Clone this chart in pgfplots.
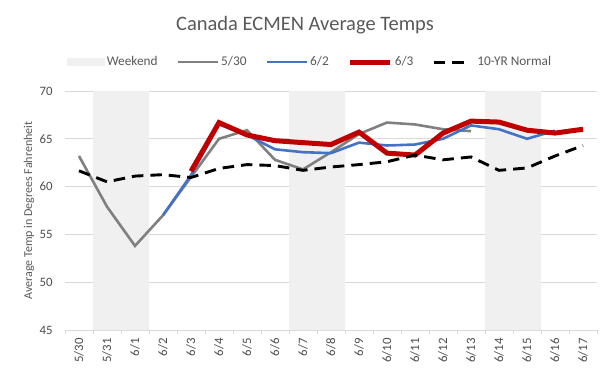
\documentclass[border=0pt]{standalone}
\usepackage{fontspec}
\setmainfont{Carlito}
\usepackage{pgfplots}
\pgfplotsset{compat=1.18}
\definecolor{txt}{HTML}{595959}
\definecolor{tick}{HTML}{4D4D4D}
\definecolor{gridc}{HTML}{D9D9D9}
\definecolor{wknd}{HTML}{F0F0F0}
\definecolor{sgray}{HTML}{808080}
\definecolor{sblue}{HTML}{4472C4}
\definecolor{sred}{HTML}{C00000}
\begin{document}
\begin{tikzpicture}
\begin{axis}[
  set layers,
  at={(65pt,45pt)}, anchor=south west,
  scale only axis, width=532pt, height=239pt,
  xmin=-0.5, xmax=18.5, ymin=45, ymax=70,
  ytick={45,50,...,70},
  xtick={0,...,18},
  xticklabels={5/30,5/31,6/1,6/2,6/3,6/4,6/5,6/6,6/7,6/8,6/9,6/10,6/11,6/12,6/13,6/14,6/15,6/16,6/17},
  minor xtick={-0.5,0.5,...,18.5},
  major tick length=0pt, minor tick length=4pt, tick align=outside,
  xtick pos=bottom, ytick pos=left,
  minor x tick style={draw=gridc, line width=0.8pt},
  ymajorgrids, major grid style={draw=gridc, line width=0.8pt},
  axis line style={draw=none},
  /pgf/number format/assume math mode=true,
  tick label style={font=\fontsize{12.8}{14}\selectfont, text=tick},
  xticklabel style={yshift=-8pt, rotate=90, anchor=east, inner sep=0pt},
  yticklabel style={xshift=-12.3pt, anchor=east, inner sep=0pt},
  ylabel={Average Temp in Degrees Fahrenheit},
  every axis y label/.style={at={(axis description cs:-0.0677,0.5)}, rotate=90, anchor=center, font=\fontsize{12}{14}\selectfont, text=txt},
  title={Canada ECMEN Average Temps},
  every axis title/.style={at={(axis description cs:0.451,1.2552)}, anchor=base, font=\fontsize{20.5}{24}\selectfont, text=txt},
  legend columns=5,
  legend style={at={(axis description cs:0.4605,1.121)}, anchor=center, draw=none, fill=none,
    font=\fontsize{13.3}{15}\selectfont, text=txt,
    /tikz/every even column/.append style={column sep=17pt}},
  legend image code/.code={\draw[#1] (0pt,0pt) -- (40pt,0pt);},
]
\addplot[ybar, bar width=1, fill=wknd, draw=none,
  legend image code/.code={\fill[wknd] (0pt,-3.7pt) rectangle (38pt,3.7pt);}]
  coordinates {(1,70) (2,70) (8,70) (9,70) (15,70) (16,70)};
\addlegendentry{Weekend}
\addplot[sgray, line width=2.6pt] coordinates {
 (0,63.2) (1,57.9) (2,53.8) (3,57.0) (4,61.0) (5,65.0) (6,65.9) (7,62.8)
 (8,61.8) (9,63.6) (10,65.5) (11,66.7) (12,66.5) (13,66.0) (14,65.8)};
\addlegendentry{5/30}
\addplot[sblue, line width=2.6pt] coordinates {
 (3,57.0) (4,61.2) (5,66.5) (6,65.4) (7,63.9) (8,63.6) (9,63.5) (10,64.6)
 (11,64.3) (12,64.4) (13,65.0) (14,66.4) (15,66.0) (16,65.0) (17,65.85)};
\addlegendentry{6/2}
\addplot[sred, line width=5pt] coordinates {
 (4,61.6) (5,66.7) (6,65.4) (7,64.8) (8,64.6) (9,64.4) (10,65.7) (11,63.5)
 (12,63.3) (13,65.6) (14,66.85) (15,66.75) (16,65.9) (17,65.6) (18,66.0)};
\addlegendentry{6/3}
\addplot[black, line width=2.9pt, dash pattern=on 11.5pt off 7pt,
  legend image code/.code={\draw[black, line width=2.9pt, dash pattern=on 11.5pt off 7pt] (0pt,0pt) -- (30pt,0pt); \path (40pt,0pt);}] coordinates {
 (0,61.65) (1,60.5) (2,61.1) (3,61.25) (4,60.95) (5,61.9) (6,62.3) (7,62.2)
 (8,61.7) (9,62.05) (10,62.3) (11,62.6) (12,63.3) (13,62.8) (14,63.1)
 (15,61.7) (16,61.95) (17,63.2) (18,64.3)};
\addlegendentry{10-YR Normal}
\end{axis}
\pgfresetboundingbox
\path[use as bounding box] (0,0) rectangle (613pt,375pt);
\end{tikzpicture}
\end{document}
